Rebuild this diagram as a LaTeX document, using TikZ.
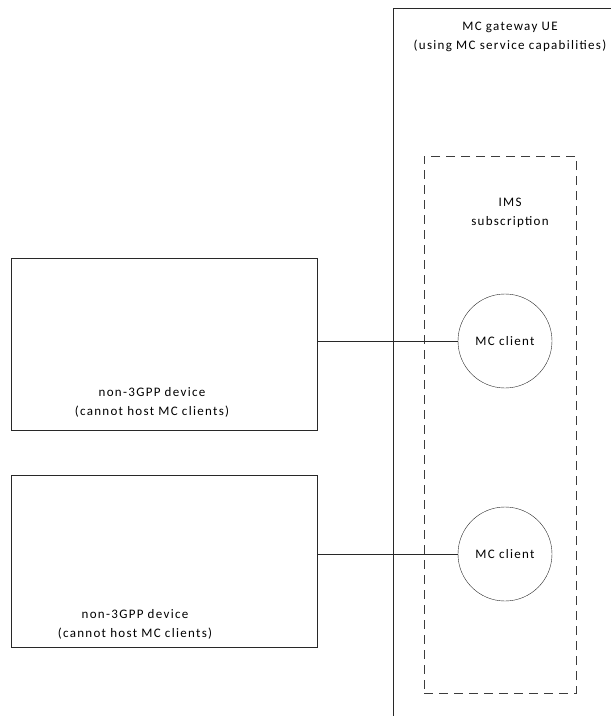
\documentclass[tikz,border=0pt]{standalone}
\usepackage{fontspec}
\setmainfont{Carlito}[LetterSpace=10]
\usepackage{tikz}
\usetikzlibrary{
  positioning
}
\definecolor{mcline}{RGB}{40,40,40}
\definecolor{mcdash}{RGB}{60,60,60}
\tikzset{
  mcGateway/.style={
    rectangle,
    draw=mcline,
    thin,
    minimum width=307pt,
    minimum height=752pt
  },
  mcIms/.style={
    rectangle,
    draw=mcdash,
    thin,
    dash pattern=on 9pt off 6pt,
    minimum width=152pt,
    minimum height=537pt
  },
  mcDevice/.style={
    rectangle,
    draw=mcline,
    thin,
    minimum width=306pt,
    minimum height=172pt
  },
  mcClient/.style={
    circle,
    draw=mcline,
    thin,
    minimum size=94pt,
    inner sep=0pt,
    font=\fontsize{13}{15}\selectfont
  },
  mcText/.style={
    align=center,
    font=\fontsize{13}{19}\selectfont,
    inner sep=0pt
  },
  mcLink/.style={
    draw=mcline,
    thin
  }
}

\begin{document}
\begin{tikzpicture}[x=1pt,y=-1pt]
  \useasboundingbox (0,0) rectangle (611,716);
  \clip (0,0) rectangle (611,716);

  % gateway UE and its IMS subscription
  \node[mcGateway] (gateway) at (546.5,384) {};
  \node[mcIms] (ims) at (500,424.5) {};
  \node[mcText] (gwlabel) at (510,37)
    {MC gateway UE\\(using MC service capabilities)};
  \node[mcText] (imslabel) at (510,213) {IMS\\subscription};

  % MC clients
  \node[mcClient] (client1) at (505,341) {MC client};
  \node[mcClient] (client2) at (505,554) {MC client};

  % non-3GPP devices
  \node[mcDevice] (device1) at (164,344) {};
  \node[mcDevice] (device2) at (164.5,561.5) {};
  \node[mcText] (dev1label) at (152,402)
    {non-3GPP device\\(cannot host MC clients)};
  \node[mcText] (dev2label) at (135,624)
    {non-3GPP device\\(cannot host MC clients)};

  \draw[mcLink] (device1.east |- client1.west) -- (client1.west);
  \draw[mcLink] (device2.east |- client2.west) -- (client2.west);
\end{tikzpicture}
\end{document}
